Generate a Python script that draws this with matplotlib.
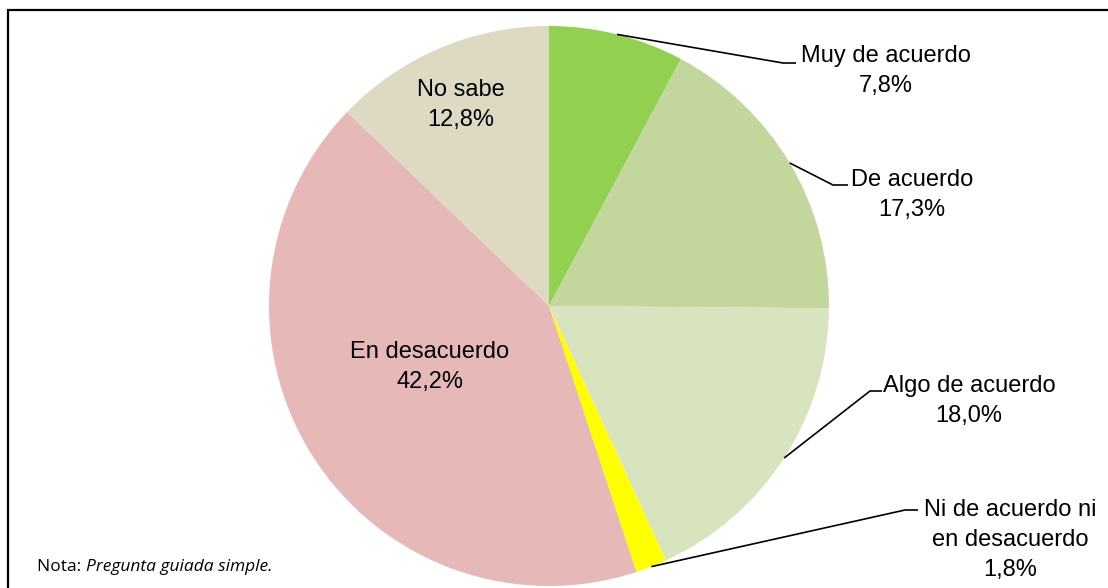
import numpy as np
import matplotlib
matplotlib.use("Agg")
from matplotlib import pyplot as plt
from matplotlib.patches import Rectangle

# datos del gráfico
categorias = ["Muy de acuerdo", "De acuerdo", "Algo de acuerdo",
              "Ni de acuerdo ni\nen desacuerdo", "En desacuerdo", "No sabe"]
porcentajes = [7.8, 17.3, 18.0, 1.8, 42.2, 12.8]
colores = ["#92D050", "#C3D69B", "#D7E4BD", "#FFFF00", "#E6B9B8", "#DDD9C3"]

W, H = 1108, 588
CX, CY, R = 549, 306, 280   # centro y radio del pastel en píxeles

plt.rcParams['font.family'] = ['Liberation Sans', 'DejaVu Sans']

fig = plt.figure(figsize=(W / 100, H / 100), dpi=100)
ax = fig.add_axes([(CX - R) / W, (H - CY - R) / H, 2 * R / W, 2 * R / H])
ax.pie(porcentajes, colors=colores, startangle=90, counterclock=False,
       radius=1, wedgeprops={"linewidth": 0})
ax.set_xlim(-1, 1)
ax.set_ylim(-1, 1)
ax.set_aspect("equal")
ax.axis("off")

def px(x, y):
    # píxeles de la imagen -> coordenadas del pastel
    return (x - CX) / R, (CY - y) / R

# ángulo medio de cada porción
total = sum(porcentajes)
acum = np.cumsum([0] + porcentajes)
medios = [np.deg2rad(90 - 360 * (acum[i] + porcentajes[i] / 2) / total)
          for i in range(len(porcentajes))]

etiq = [f"{c}\n{p:.1f}%".replace(".", ",") for c, p in zip(categorias, porcentajes)]

# etiquetas externas con línea guía: (codo, fin de línea, centro del texto)
externas = {
    0: ((783, 63), (796, 63), (886, 71)),
    1: ((833, 185), (848, 185), (912, 195)),
    2: ((870, 391), (882, 391), (969, 401)),
    3: ((905, 510), (918, 510), (1010, 540)),
}
for i, (codo, fin, txt) in externas.items():
    x0, y0 = np.cos(medios[i]), np.sin(medios[i])
    xs = [x0, px(*codo)[0], px(*fin)[0]]
    ys = [y0, px(*codo)[1], px(*fin)[1]]
    ax.plot(xs, ys, color="black", lw=1.2, clip_on=False, solid_capstyle="butt")
    tx, ty = px(*txt)
    ax.text(tx, ty, etiq[i], ha="center", va="center", fontsize=17,
            linespacing=1.48, clip_on=False)

# etiquetas internas
for i, pos in {4: (430, 367), 5: (461, 105)}.items():
    tx, ty = px(*pos)
    ax.text(tx, ty, etiq[i], ha="center", va="center", fontsize=17, linespacing=1.48)

# marco
fig.patches.append(Rectangle((7.5 / W, -0.1), 1.2, 1.1 - 10.5 / H,
                             transform=fig.transFigure, fill=False,
                             edgecolor="black", lw=1.6, clip_on=False))

# nota
t1 = fig.text(37 / W, 1 - 567 / H, "Nota: ", fontsize=12.5, va="center",
              family=["Open Sans", "DejaVu Sans"])
fig.canvas.draw()
bb = t1.get_window_extent(fig.canvas.get_renderer())
fig.text(bb.x1 / W, 1 - 567 / H, "Pregunta guiada simple.", fontsize=12.5,
         va="center", style="italic", family=["Open Sans", "DejaVu Sans"])

fig.savefig("out.png", dpi=100)
